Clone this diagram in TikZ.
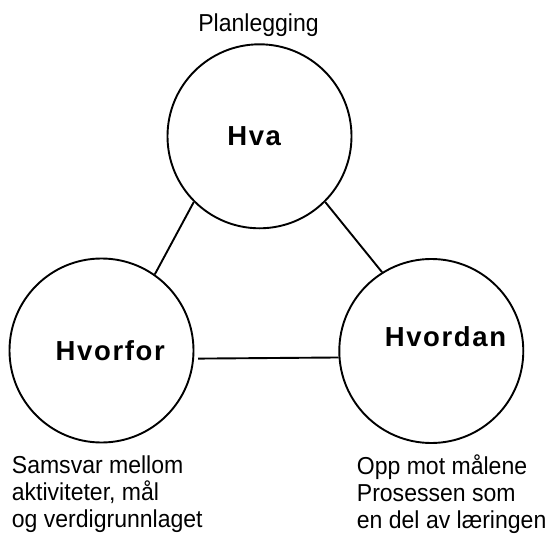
\documentclass[tikz,border=0pt]{standalone}
\usepackage{fontspec}
\setmainfont{Liberation Sans}
\newfontfamily\regfont[FakeStretch=0.94]{Liberation Sans}
\newfontfamily\boldfont[LetterSpace=6]{Liberation Sans Bold}
\begin{document}
\begin{tikzpicture}[x=1pt,y=-1pt,
  circ/.style={draw=black, line width=1.9pt, circle, minimum size=184pt, inner sep=0pt},
  boldlbl/.style={font=\boldfont\fontsize{27.5}{30}\selectfont, inner sep=0pt, anchor=base},
  reglbl/.style={font=\regfont\fontsize{24.5}{27.3}\selectfont, inner sep=0pt, anchor=base west},
  conn/.style={draw=black, line width=1.9pt}]
\useasboundingbox (0,0) rectangle (555,535);
\node[circ] (hva) at (259.5,136.3) {};
\node[circ] (hvorfor) at (101.5,350.5) {};
\node[circ] (hvordan) at (431.3,351) {};
\node[boldlbl] (hvatxt) at (254.2,146) {Hva};
\node[boldlbl] (hvorfortxt) at (110.3,360) {Hvorfor};
\node[boldlbl] (hvordantxt) at (445.5,346) {Hvordan};
\node[reglbl, anchor=base] (plan) at (258.5,31.7) {Planlegging};
\node[reglbl] (left1) at (11.7,473.3) {Samsvar mellom};
\node[reglbl] (left2) at (11.7,500.6) {aktiviteter, mål};
\node[reglbl] (left3) at (11.7,527.9) {og verdigrunnlaget};
\node[reglbl] (right1) at (356.7,474) {Opp mot målene};
\node[reglbl] (right2) at (356.7,501.3) {Prosessen som};
\node[reglbl] (right3) at (356.7,528.6) {en del av læringen};
\draw[conn] (hva.225.7) -- (hvorfor.55.9);
\draw[conn] (hva.315) -- (hvordan.122);
\draw[conn] ([xshift=4pt]hvorfor.-5) -- (hvordan.184.7);
\end{tikzpicture}
\end{document}
